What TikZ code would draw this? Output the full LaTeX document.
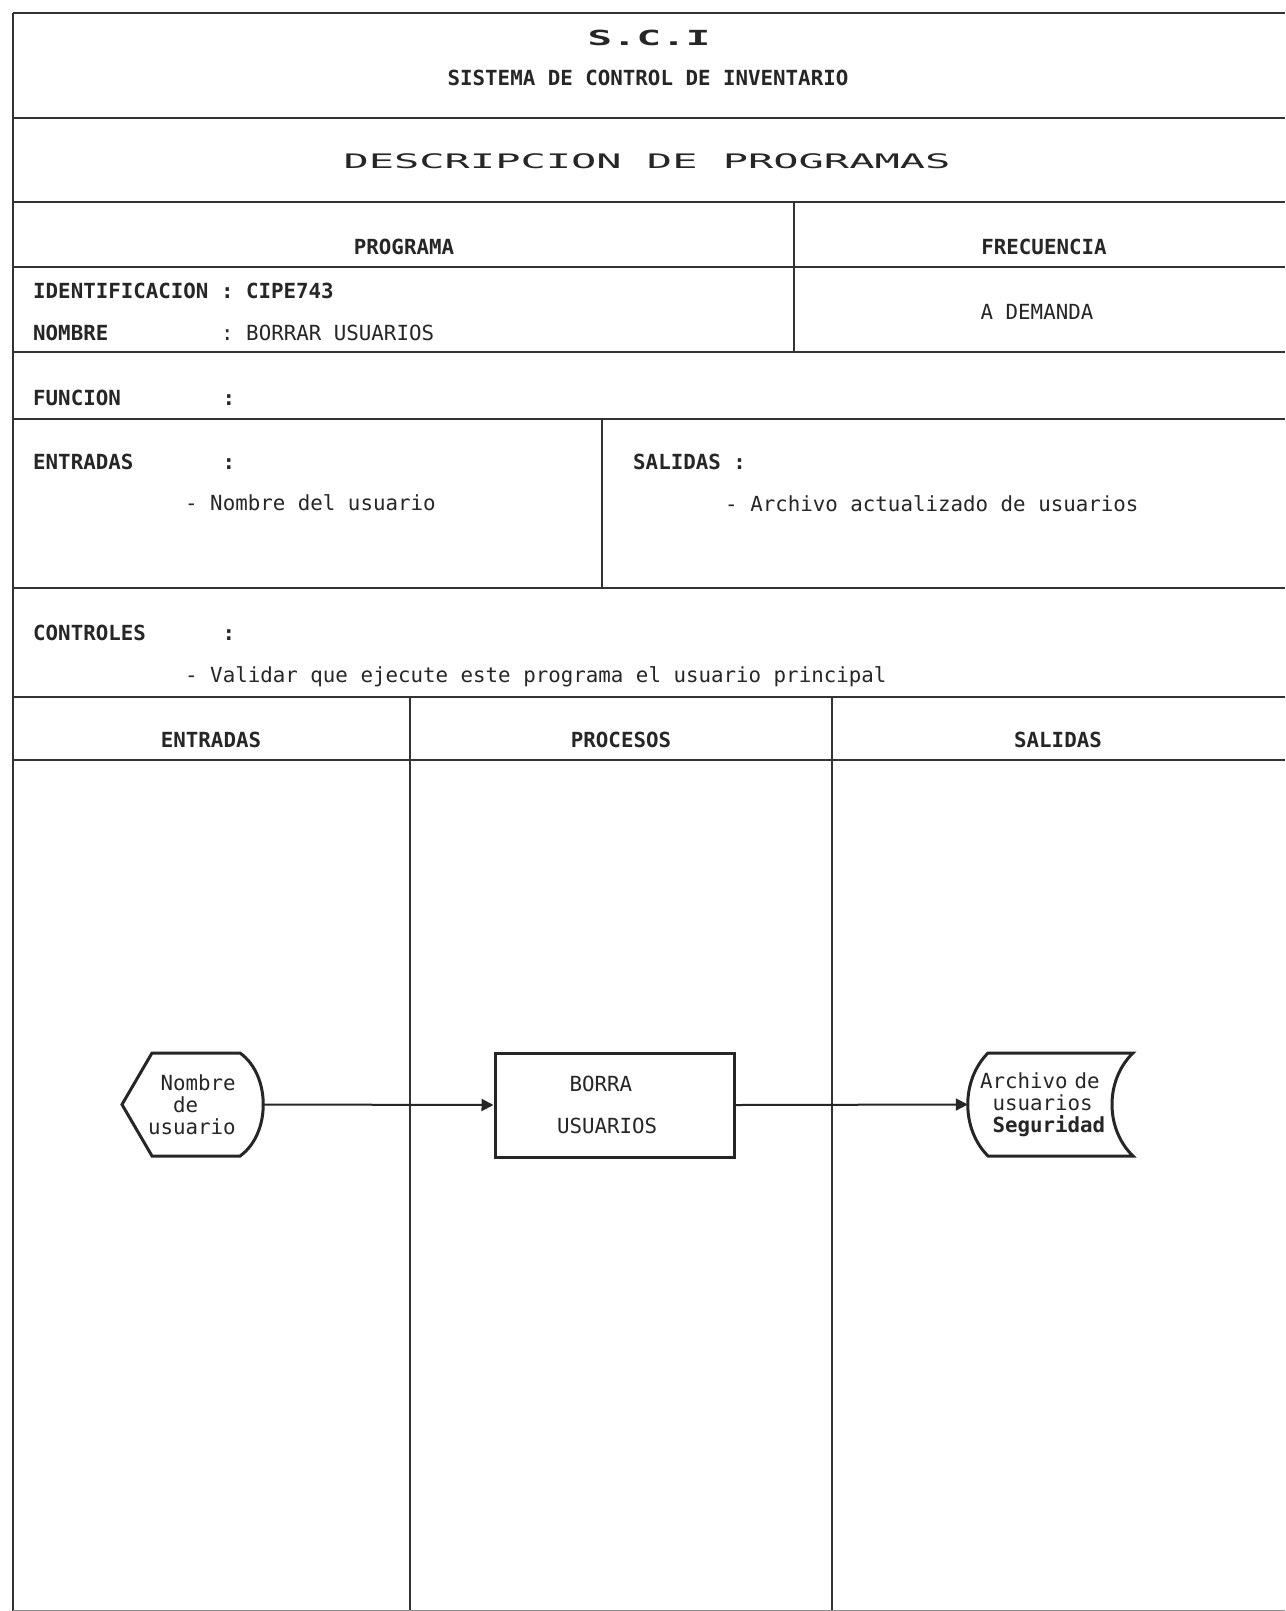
\documentclass[tikz,border=0pt]{standalone}
\usepackage{fontspec}
\usepackage{graphicx}
\setmonofont{DejaVu Sans Mono}
\usetikzlibrary{arrows.meta}
\begin{document}
\begin{tikzpicture}[x=1pt,y=-1pt,
  hline/.style={line width=2.6pt, draw=black!80},
  vline/.style={line width=1.5pt, draw=black!80},
  txt/.style={font=\ttfamily\fontsize{20.8}{22}\selectfont, text=black!85, inner sep=0pt, text height=15pt, text depth=0pt},
  lbl/.style={txt, font=\ttfamily\bfseries\fontsize{20.8}{22}\selectfont},
  shapetxt/.style={font=\ttfamily\fontsize{20.8}{22}\selectfont, text=black!85, align=left},
  outline/.style={line width=3pt, draw=black!85},
  conn/.style={line width=2pt, draw=black!85, -{Triangle[length=12pt,width=12pt]}}
]
\useasboundingbox (0,0) rectangle (1285,1611);
\fill[white] (0,0) rectangle (1285,1611);

% ---- table rules
\foreach \yy in {13,118,202,267,352,419,588,697,760}
  \draw[hline] (13,\yy) -- (1285,\yy);
\draw[vline] (13,13) -- (13,1611);
\draw[vline] (794,202) -- (794,352);
\draw[vline] (602,419) -- (602,588);
\draw[vline] (410,697) -- (410,1611);
\draw[vline] (832,697) -- (832,1611);
\draw[line width=1pt, draw=black!45] (13,1610) -- (1285,1610);

% ---- header texts
\node[lbl] (sci) at (649,38) {\scalebox{1.96}[1]{S.C.I}};
\node[lbl] (sis) at (648,78) {SISTEMA DE CONTROL DE INVENTARIO};
\node[txt, font=\ttfamily\fontsize{20}{22}\selectfont] (desc) at (647,161) {\scalebox{2.1}[1]{DESCRIPCION DE PROGRAMAS}};
\node[lbl] (prog) at (404,247) {PROGRAMA};
\node[lbl] (freq) at (1044,247) {FRECUENCIA};

% ---- identification
\node[lbl, anchor=west] (ident) at (33,291) {IDENTIFICACION : CIPE743};
\node[lbl, anchor=west] (nom) at (33,333) {NOMBRE};
\node[txt, anchor=west] (nomval) at (221,333) {: BORRAR USUARIOS};
\node[txt] (dem) at (1037,312) {A DEMANDA};

% ---- function, inputs, outputs, controls
\node[lbl, anchor=west] (func) at (33,398) {FUNCION};
\node[lbl] (funcc) at (229,398) {:};
\node[lbl, anchor=west] (ent) at (33,462) {ENTRADAS};
\node[lbl] (entc) at (229,462) {:};
\node[txt, anchor=west] (entitem) at (185,503) {- Nombre del usuario};
\node[lbl, anchor=west] (sal) at (633,462) {SALIDAS  :};
\node[txt, anchor=west] (salitem) at (725,504) {- Archivo actualizado de usuarios};
\node[lbl, anchor=west] (ctrl) at (33,633) {CONTROLES};
\node[lbl] (ctrlc) at (229,633) {:};
\node[txt, anchor=west] (ctrlitem) at (185,675) {- Validar que ejecute este programa el usuario principal};

% ---- column headers
\node[lbl] (hent) at (211,740) {ENTRADAS};
\node[lbl] (hproc) at (621,740) {PROCESOS};
\node[lbl] (hsal) at (1058,740) {SALIDAS};

% ---- flow: input (display symbol)
\draw[outline] (122,1104.5) -- (152,1053) -- (240,1053)
  .. controls (271,1075) and (271,1134) .. (240,1156) -- (152,1156) -- cycle;
\node[shapetxt, minimum width=141pt, minimum height=103pt, text width=89pt, inner xsep=26pt, inner ysep=0pt]
  (in) at (192.5,1104.5) {\hphantom{x}Nombre\\\hphantom{xx}de\\usuario};

% ---- process
\node[shapetxt, outline, minimum width=239pt, minimum height=104pt, text width=115pt, inner xsep=62pt, inner ysep=0pt]
  (proc) at (614.5,1105) {\hphantom{x}BORRA\\[20pt]USUARIOS};

% ---- output (stored data symbol)
\draw[outline] (988,1053) -- (1133,1053)
  .. controls (1105,1080) and (1105,1129) .. (1133,1156) -- (988,1156)
  .. controls (961,1129) and (961,1080) .. (988,1053) -- cycle;
\node[shapetxt, minimum width=165pt, minimum height=103pt, text width=141pt, inner xsep=12pt, inner ysep=0pt]
  (out) at (1050.5,1104.5) {Archivo de\\\hphantom{x}usuarios\\\hphantom{x}\textbf{Seguridad}};

% ---- connectors
\draw[conn] (in.east) -- (proc.west);
\draw[conn] (proc.east) -- (out.west);
\end{tikzpicture}
\end{document}
